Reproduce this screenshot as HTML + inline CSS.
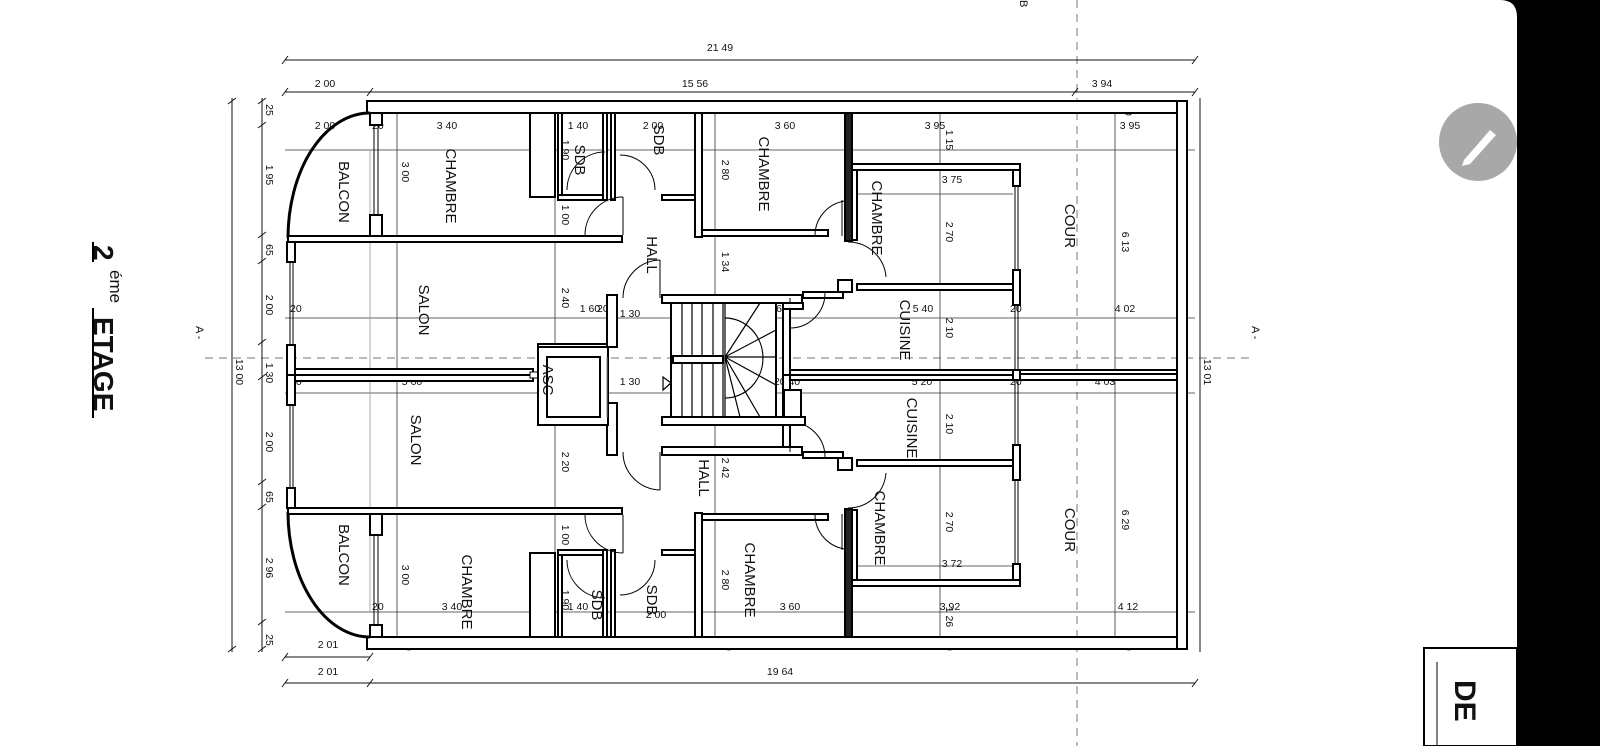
<!DOCTYPE html>
<html><head><meta charset="utf-8"><style>
html,body{margin:0;padding:0;background:#fff;width:1600px;height:746px;overflow:hidden}
svg{display:block}
text{font-family:"Liberation Sans",sans-serif;fill:#111}
.d{font-size:10.5px}
.r{font-size:15px}
</style></head><body>
<svg width="1600" height="746" viewBox="0 0 1600 746" xmlns="http://www.w3.org/2000/svg">
<rect x="0" y="0" width="1600" height="746" fill="#fff"/>
<!-- right dark area -->
<rect x="1517" y="0" width="83" height="746" fill="#000"/>
<path d="M1500,0 Q1517,0 1517,17 L1517,0 Z" fill="#000"/>
<circle cx="1478" cy="142" r="39" fill="#a8a8a8"/>
<path d="M1464,160 L1490,130 L1496,135 L1470,164 L1462,166 Z" fill="#fff"/>
<rect x="1424" y="648" width="93" height="98" fill="#fff" stroke="#000" stroke-width="2"/>
<line x1="1437" y1="662" x2="1437" y2="746" stroke="#000" stroke-width="1"/>
<text x="1455" y="680" transform="rotate(90 1455 680)" style="font-size:30px;font-weight:bold">DE</text>

<!-- title -->
<g transform="rotate(90 110 330)">
<text x="25" y="346" style="font-size:28px;font-weight:bold">2</text>
<text x="50" y="330" style="font-size:17px">éme</text>
<text x="97" y="346" style="font-size:28px;font-weight:bold">ETAGE</text>
</g>
<line x1="93" y1="242" x2="93" y2="262" stroke="#000" stroke-width="2"/>
<line x1="93" y1="308" x2="93" y2="418" stroke="#000" stroke-width="2"/>

<!-- axes -->
<g stroke="#777" stroke-width="1" stroke-dasharray="8,6" fill="none">
<line x1="205" y1="358" x2="1255" y2="358"/>
<line x1="1077" y1="0" x2="1077" y2="746"/>
</g>
<text x="196" y="326" transform="rotate(90 196 326)" style="font-size:11px">A -</text>
<text x="1252" y="326" transform="rotate(90 1252 326)" style="font-size:11px">A -</text>
<text x="1020" y="0" transform="rotate(90 1020 0)" style="font-size:11px">B</text>

<!-- dimension lines -->
<g stroke="#111" stroke-width="1" fill="none">
<line x1="285" y1="60" x2="1195" y2="60"/>
<line x1="285" y1="92" x2="1195" y2="92"/>
<line x1="285" y1="657" x2="370" y2="657"/>
<line x1="285" y1="683" x2="1195" y2="683"/>
<line x1="232" y1="98" x2="232" y2="652"/>
<line x1="262" y1="98" x2="262" y2="652"/>
<line x1="1200" y1="98" x2="1200" y2="652"/>
<path d="M282,64 l6,-8 M1192,64 l6,-8 M282,96 l6,-8 M367,96 l6,-8 M1072,96 l6,-8 M1192,96 l6,-8 M282,661 l6,-8 M367,661 l6,-8 M282,687 l6,-8 M367,687 l6,-8 M1192,687 l6,-8 M228,104 l8,-6 M228,652 l8,-6 M258,104 l8,-6 M258,128 l8,-6 M258,238 l8,-6 M258,264 l8,-6 M258,345 l8,-6 M258,380 l8,-6 M258,485 l8,-6 M258,510 l8,-6 M258,625 l8,-6 M258,652 l8,-6"/>
<!-- interior dims -->
<g stroke="#333" stroke-width="0.8">
<line x1="285" y1="150" x2="1195" y2="150"/>
<line x1="285" y1="318" x2="1195" y2="318"/>
<line x1="285" y1="393" x2="1195" y2="393"/>
<line x1="285" y1="612" x2="1195" y2="612"/>
<line x1="397" y1="101" x2="397" y2="649"/>
<line x1="555" y1="150" x2="555" y2="612"/>
<line x1="715" y1="101" x2="715" y2="649"/>
<line x1="940" y1="101" x2="940" y2="649"/>
<line x1="1115" y1="101" x2="1115" y2="649"/>
<line x1="857" y1="194" x2="1013" y2="194"/>
<line x1="857" y1="566" x2="1013" y2="566"/>
<line x1="370" y1="150" x2="370" y2="612" stroke="#999"/>
</g>
</g>
<g class="d">
<text x="720" y="51" text-anchor="middle">21 49</text>
<text x="325" y="87" text-anchor="middle">2 00</text>
<text x="695" y="87" text-anchor="middle">15 56</text>
<text x="1102" y="87" text-anchor="middle">3 94</text>
<text x="328" y="648" text-anchor="middle">2 01</text>
<text x="328" y="675" text-anchor="middle">2 01</text>
<text x="780" y="675" text-anchor="middle">19 64</text>
<text x="325" y="129" text-anchor="middle">2 00</text>
<text x="447" y="129" text-anchor="middle">3 40</text>
<text x="537" y="129" text-anchor="middle">60</text>
<text x="578" y="129" text-anchor="middle">1 40</text>
<text x="653" y="129" text-anchor="middle">2 00</text>
<text x="785" y="129" text-anchor="middle">3 60</text>
<text x="935" y="129" text-anchor="middle">3 95</text>
<text x="1130" y="129" text-anchor="middle">3 95</text>
<text x="952" y="183" text-anchor="middle">3 75</text>
<text x="923" y="312" text-anchor="middle">5 40</text>
<text x="1125" y="312" text-anchor="middle">4 02</text>
<text x="630" y="317" text-anchor="middle">1 30</text>
<text x="630" y="385" text-anchor="middle">1 30</text>
<text x="686" y="312" text-anchor="middle">1 25</text>
<text x="748" y="312" text-anchor="middle">1 19</text>
<text x="590" y="312" text-anchor="middle">1 60</text>
<text x="412" y="385" text-anchor="middle">5 60</text>
<text x="922" y="385" text-anchor="middle">5 20</text>
<text x="1105" y="385" text-anchor="middle">4 03</text>
<text x="782" y="312" text-anchor="middle">60</text>
<text x="787" y="385" text-anchor="middle">20 40</text>
<text x="952" y="567" text-anchor="middle">3 72</text>
<text x="452" y="610" text-anchor="middle">3 40</text>
<text x="537" y="610" text-anchor="middle">60</text>
<text x="578" y="610" text-anchor="middle">1 40</text>
<text x="656" y="618" text-anchor="middle">2 00</text>
<text x="790" y="610" text-anchor="middle">3 60</text>
<text x="950" y="610" text-anchor="middle">3 92</text>
<text x="1128" y="610" text-anchor="middle">4 12</text>
<text x="290" y="312">20</text><text x="290" y="385">20</text>
<text x="372" y="129">20</text><text x="372" y="610">20</text>
<text x="597" y="312">20</text><text x="597" y="385">20</text>
<text x="1010" y="312">20</text><text x="1010" y="385">20</text>
<text x="562" y="405">1 40</text>
</g>
<g class="d">
<!-- vertical rotated dims -->
<text x="266" y="110" transform="rotate(90 266 110)" text-anchor="middle">25</text>
<text x="266" y="175" transform="rotate(90 266 175)" text-anchor="middle">1 95</text>
<text x="266" y="250" transform="rotate(90 266 250)" text-anchor="middle">65</text>
<text x="266" y="305" transform="rotate(90 266 305)" text-anchor="middle">2 00</text>
<text x="266" y="373" transform="rotate(90 266 373)" text-anchor="middle">1 30</text>
<text x="266" y="442" transform="rotate(90 266 442)" text-anchor="middle">2 00</text>
<text x="266" y="497" transform="rotate(90 266 497)" text-anchor="middle">65</text>
<text x="266" y="568" transform="rotate(90 266 568)" text-anchor="middle">2 96</text>
<text x="266" y="640" transform="rotate(90 266 640)" text-anchor="middle">25</text>
<text x="236" y="372" transform="rotate(90 236 372)" text-anchor="middle">13 00</text>
<text x="1204" y="372" transform="rotate(90 1204 372)" text-anchor="middle">13 01</text>
<text x="402" y="172" transform="rotate(90 402 172)" text-anchor="middle">3 00</text>
<text x="402" y="575" transform="rotate(90 402 575)" text-anchor="middle">3 00</text>
<text x="562" y="150" transform="rotate(90 562 150)" text-anchor="middle">1 90</text>
<text x="562" y="600" transform="rotate(90 562 600)" text-anchor="middle">1 90</text>
<text x="562" y="215" transform="rotate(90 562 215)" text-anchor="middle">1 00</text>
<text x="562" y="535" transform="rotate(90 562 535)" text-anchor="middle">1 00</text>
<text x="562" y="298" transform="rotate(90 562 298)" text-anchor="middle">2 40</text>
<text x="562" y="462" transform="rotate(90 562 462)" text-anchor="middle">2 20</text>
<text x="562" y="380" transform="rotate(90 562 380)" text-anchor="middle">1 40</text>
<text x="722" y="170" transform="rotate(90 722 170)" text-anchor="middle">2 80</text>
<text x="722" y="580" transform="rotate(90 722 580)" text-anchor="middle">2 80</text>
<text x="722" y="262" transform="rotate(90 722 262)" text-anchor="middle">1 34</text>
<text x="722" y="468" transform="rotate(90 722 468)" text-anchor="middle">2 42</text>
<text x="946" y="232" transform="rotate(90 946 232)" text-anchor="middle">2 70</text>
<text x="946" y="328" transform="rotate(90 946 328)" text-anchor="middle">2 10</text>
<text x="946" y="424" transform="rotate(90 946 424)" text-anchor="middle">2 10</text>
<text x="946" y="522" transform="rotate(90 946 522)" text-anchor="middle">2 70</text>
<text x="946" y="140" transform="rotate(90 946 140)" text-anchor="middle">1 15</text>
<text x="946" y="617" transform="rotate(90 946 617)" text-anchor="middle">1 26</text>
<text x="1122" y="242" transform="rotate(90 1122 242)" text-anchor="middle">6 13</text>
<text x="1122" y="520" transform="rotate(90 1122 520)" text-anchor="middle">6 29</text>
<text x="725" y="106" transform="rotate(90 725 106)" text-anchor="middle">20</text>
<text x="946" y="106" transform="rotate(90 946 106)" text-anchor="middle">20</text>
<text x="1125" y="110" transform="rotate(90 1125 110)" text-anchor="middle">20</text>
<text x="405" y="106" transform="rotate(90 405 106)" text-anchor="middle">20</text>
<text x="405" y="645" transform="rotate(90 405 645)" text-anchor="middle">20</text>
<text x="725" y="645" transform="rotate(90 725 645)" text-anchor="middle">20</text>
<text x="946" y="645" transform="rotate(90 946 645)" text-anchor="middle">20</text>
<text x="1125" y="645" transform="rotate(90 1125 645)" text-anchor="middle">20</text>
</g>

<!-- walls: top half, mirrored for bottom -->
<defs>
<g id="half" fill="#fff" stroke="#000" stroke-width="2">
<rect x="367" y="101" width="810" height="12"/>
<rect x="370" y="113" width="12" height="12"/>
<rect x="370" y="215" width="12" height="23"/>
<line x1="374" y1="125" x2="374" y2="215" stroke-width="1"/>
<line x1="378" y1="125" x2="378" y2="215" stroke-width="1"/>
<path d="M370,113 A82,125 0 0 0 288,238" fill="none" stroke-width="3"/>
<rect x="288" y="236" width="334" height="6"/>
<rect x="287" y="242" width="8" height="20"/>
<line x1="290" y1="262" x2="290" y2="345" stroke-width="1"/>
<line x1="293" y1="262" x2="293" y2="345" stroke-width="1"/>
<rect x="287" y="345" width="8" height="30"/>
<rect x="295" y="369" width="238" height="6"/>
<rect x="530" y="113" width="25" height="84"/>
<rect x="558" y="113" width="4" height="84"/>
<rect x="558" y="195" width="45" height="5"/>
<rect x="603" y="113" width="4" height="87"/>
<rect x="611" y="113" width="4" height="87"/>
<rect x="662" y="195" width="36" height="5"/>
<rect x="695" y="113" width="7" height="124"/>
<rect x="702" y="230" width="126" height="6"/>
<rect x="845" y="113" width="7" height="128" fill="#222"/>
<rect x="852" y="164" width="168" height="6"/>
<rect x="852" y="170" width="5" height="70"/>
<rect x="1013" y="170" width="7" height="16"/>
<line x1="1015" y1="186" x2="1015" y2="270" stroke-width="1"/>
<line x1="1018" y1="186" x2="1018" y2="270" stroke-width="1"/>
<rect x="1013" y="270" width="7" height="35"/>
<rect x="857" y="284" width="156" height="6"/>
<rect x="838" y="280" width="14" height="12"/>
<rect x="803" y="292" width="40" height="6"/>
<rect x="783" y="298" width="7" height="77"/>
<line x1="1015" y1="305" x2="1015" y2="372" stroke-width="1"/>
<line x1="1018" y1="305" x2="1018" y2="372" stroke-width="1"/>
<rect x="1020" y="370" width="157" height="6"/>
<rect x="790" y="370" width="223" height="5"/>
<rect x="1013" y="370" width="7" height="10"/>
<rect x="607" y="295" width="10" height="52"/>
<rect x="538" y="344" width="69" height="6"/>
<rect x="662" y="295" width="140" height="8"/>
<!-- doors -->
<g fill="none" stroke-width="1">
<path d="M567,190 A38,38 0 0 1 605,152"/>
<path d="M655,190 A35,35 0 0 0 620,155"/>
<path d="M585,235 A38,38 0 0 1 623,197"/>
<line x1="623" y1="197" x2="623" y2="235"/>
<path d="M623,298 A38,38 0 0 1 660,260"/>
<line x1="660" y1="260" x2="660" y2="298"/>
<path d="M815,236 A35,35 0 0 1 845,201"/>
<line x1="842" y1="200" x2="842" y2="236"/>
<path d="M848,242 A38,38 0 0 1 886,277"/>
<path d="M790,328 A35,35 0 0 0 825,293"/>
<line x1="790" y1="298" x2="790" y2="330"/>
</g>
</g>
</defs>
<use href="#half"/>
<use href="#half" transform="matrix(1 0 0 -1 0 750)"/>
<!-- outer right & bottom/left pieces -->
<g fill="#fff" stroke="#000" stroke-width="2">
<rect x="1177" y="101" width="10" height="548"/>
<rect x="530" y="372" width="8" height="6" stroke-width="1"/>
<!-- ASC -->
<rect x="538" y="347" width="70" height="78"/>
<rect x="547" y="357" width="53" height="60"/>
<line x1="607" y1="357" x2="607" y2="417" stroke-width="1" stroke="#888"/>
<!-- stair -->
<rect x="671" y="303" width="105" height="114" fill="#fff"/>
<rect x="662" y="417" width="143" height="8"/>
<rect x="673" y="356" width="50" height="7"/>
<rect x="783" y="303" width="20" height="6"/>
<rect x="784" y="390" width="17" height="27"/>
</g>
<g stroke="#000" stroke-width="1.2" fill="none">
<path d="M682,303V356 M692,303V356 M702,303V356 M713,303V356 M723,303V356 M682,363V417 M692,363V417 M702,363V417 M713,363V417 M723,363V417"/>
<path d="M725,357 L760,303 M725,357 L776,330 M725,357 L776,357 M725,357 L776,385 M725,357 L760,417 M725,357 L740,417"/>
<path d="M725,318 A38,40 0 0 1 725,398"/>
<path d="M663,377 L671,383 L663,390 Z"/>
<line x1="725" y1="303" x2="725" y2="417"/>
</g>

<!-- room labels -->
<g class="r">
<text x="446" y="186" transform="rotate(90 446 186)" text-anchor="middle">CHAMBRE</text>
<text x="339" y="192" transform="rotate(90 339 192)" text-anchor="middle">BALCON</text>
<text x="575" y="160" transform="rotate(90 575 160)" text-anchor="middle">SDB</text>
<text x="654" y="140" transform="rotate(90 654 140)" text-anchor="middle">SDB</text>
<text x="759" y="174" transform="rotate(90 759 174)" text-anchor="middle">CHAMBRE</text>
<text x="872" y="218" transform="rotate(90 872 218)" text-anchor="middle">CHAMBRE</text>
<text x="1065" y="226" transform="rotate(90 1065 226)" text-anchor="middle">COUR</text>
<text x="647" y="255" transform="rotate(90 647 255)" text-anchor="middle">HALL</text>
<text x="419" y="310" transform="rotate(90 419 310)" text-anchor="middle">SALON</text>
<text x="900" y="330" transform="rotate(90 900 330)" text-anchor="middle">CUISINE</text>
<text x="543" y="380" transform="rotate(90 543 380)" text-anchor="middle">ASC</text>
<text x="907" y="428" transform="rotate(90 907 428)" text-anchor="middle">CUISINE</text>
<text x="411" y="440" transform="rotate(90 411 440)" text-anchor="middle">SALON</text>
<text x="699" y="478" transform="rotate(90 699 478)" text-anchor="middle">HALL</text>
<text x="875" y="528" transform="rotate(90 875 528)" text-anchor="middle">CHAMBRE</text>
<text x="1065" y="530" transform="rotate(90 1065 530)" text-anchor="middle">COUR</text>
<text x="339" y="555" transform="rotate(90 339 555)" text-anchor="middle">BALCON</text>
<text x="462" y="592" transform="rotate(90 462 592)" text-anchor="middle">CHAMBRE</text>
<text x="592" y="605" transform="rotate(90 592 605)" text-anchor="middle">SDB</text>
<text x="647" y="600" transform="rotate(90 647 600)" text-anchor="middle">SDB</text>
<text x="745" y="580" transform="rotate(90 745 580)" text-anchor="middle">CHAMBRE</text>
</g>
</svg>
</body></html>
